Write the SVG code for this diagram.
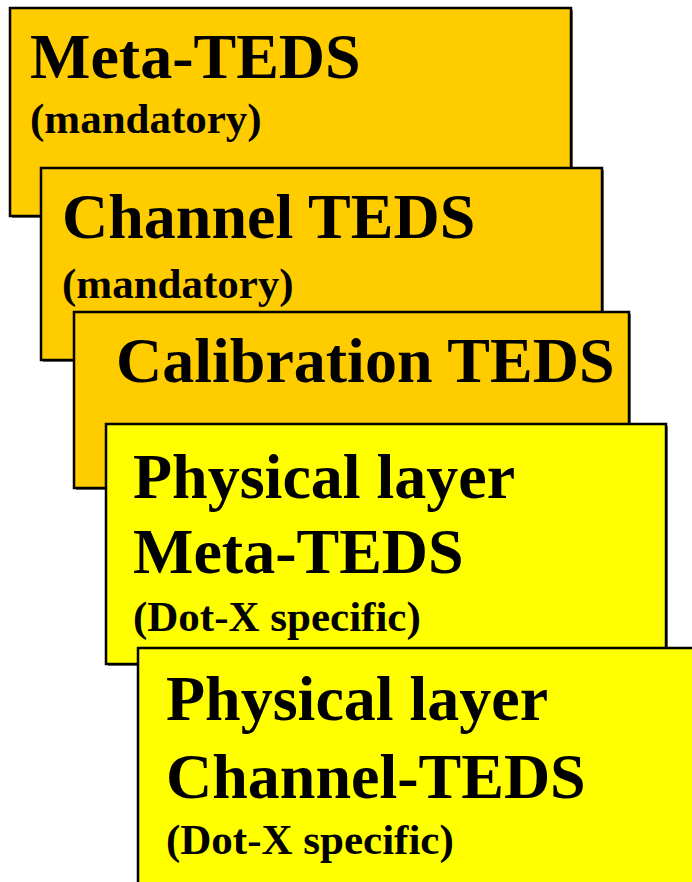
<svg xmlns="http://www.w3.org/2000/svg" width="692" height="882" viewBox="0 0 692 882">
<style>
.box{stroke:#000;stroke-width:2.5}
.shadow{fill:#777}
.orange{fill:#FFCC00}
.yellow{fill:#FFFF00}
text{font-family:"Liberation Serif","Times New Roman",serif;font-weight:bold;fill:#000}
.big{font-size:64px}
.small{font-size:43px}
</style>
<rect width="692" height="882" fill="#fff"/>
<g id="meta-teds">
<rect class="shadow" x="12" y="10" width="561" height="208"/>
<rect class="box orange" x="10" y="8" width="561" height="208"/>
<text class="big" x="30" y="78">Meta-TEDS</text>
<text class="small" x="30" y="133">(mandatory)</text>
</g>
<g id="channel-teds">
<rect class="shadow" x="43" y="170" width="561" height="192"/>
<rect class="box orange" x="41" y="168" width="561" height="192"/>
<text class="big" x="62" y="238">Channel TEDS</text>
<text class="small" x="62" y="298">(mandatory)</text>
</g>
<g id="calibration-teds">
<rect class="shadow" x="76" y="314" width="555" height="176"/>
<rect class="box orange" x="74" y="312" width="555" height="176"/>
<text class="big" x="116" y="382">Calibration TEDS</text>
</g>
<g id="phys-meta-teds">
<rect class="shadow" x="108" y="426" width="560" height="240"/>
<rect class="box yellow" x="106" y="424" width="560" height="240"/>
<text class="big" x="133" y="498">Physical layer</text>
<text class="big" x="133" y="573">Meta-TEDS</text>
<text class="small" x="133" y="631">(Dot-X specific)</text>
</g>
<g id="phys-channel-teds">
<rect class="box yellow" x="138" y="648" width="570" height="250"/>
<text class="big" x="166" y="720">Physical layer</text>
<text class="big" x="166" y="798">Channel-TEDS</text>
<text class="small" x="166" y="854">(Dot-X specific)</text>
</g>
<g id="connectors"/>
</svg>
